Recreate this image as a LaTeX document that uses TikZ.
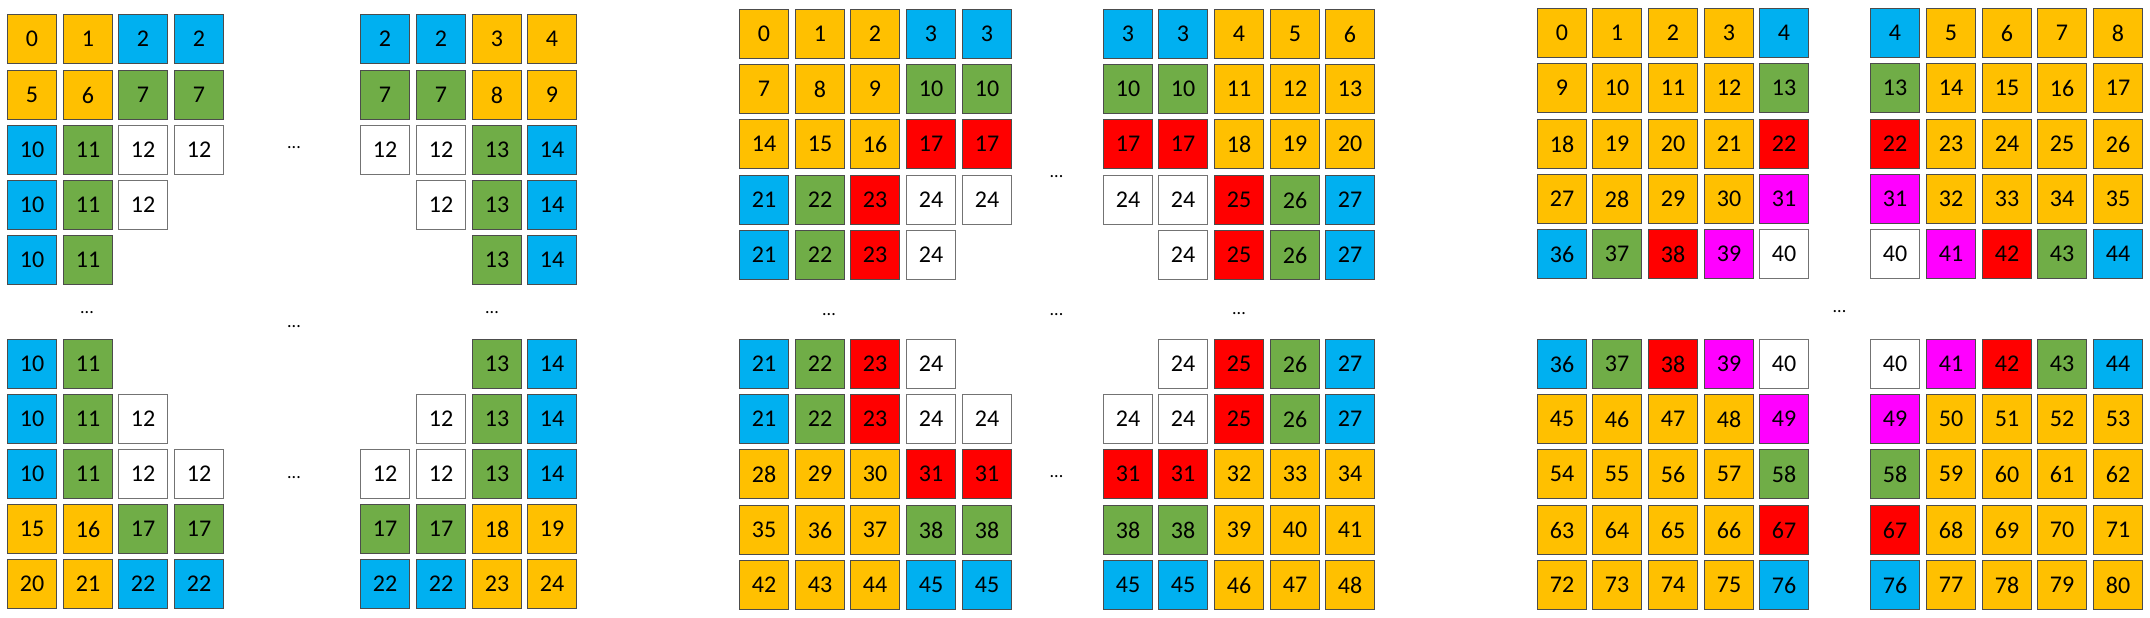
\documentclass[tikz,border=0pt]{standalone}
\usepackage{fontspec}
\setmainfont{Carlito}
\definecolor{cyel}{HTML}{FFC000}
\definecolor{cblu}{HTML}{00B0F0}
\definecolor{cgrn}{HTML}{70AD47}
\definecolor{cred}{HTML}{FF0000}
\definecolor{cmag}{HTML}{FF00FF}

\begin{document}
\begin{tikzpicture}[x=1pt,y=-1pt,
  sq/.style={draw=black!70,line width=1.1pt,minimum size=49pt,inner sep=0pt,font=\fontsize{24}{28}\selectfont},
  ycell/.style={sq,fill=cyel}, bcell/.style={sq,fill=cblu}, gcell/.style={sq,fill=cgrn},
  rcell/.style={sq,fill=cred}, mcell/.style={sq,fill=cmag}, wcell/.style={sq,draw=black!55,fill=white},
  dots/.style={inner sep=0pt,font=\fontsize{18}{20}\selectfont}]
\useasboundingbox (0,0) rectangle (2150,618);

% first example, 4x4 blocks
\node[ycell] (a11) at (32,39) {0}; \node[ycell] (a12) at (88,39) {1}; \node[bcell] (a13) at (143,39) {2}; \node[bcell] (a14) at (199,39) {2};
\node[ycell] (a21) at (32,95) {5}; \node[ycell] (a22) at (88,95) {6}; \node[gcell] (a23) at (143,95) {7}; \node[gcell] (a24) at (199,95) {7};
\node[bcell] (a31) at (32,150) {10}; \node[gcell] (a32) at (88,150) {11}; \node[wcell] (a33) at (143,150) {12}; \node[wcell] (a34) at (199,150) {12};
\node[bcell] (a41) at (32,205) {10}; \node[gcell] (a42) at (88,205) {11}; \node[wcell] (a43) at (143,205) {12};
\node[bcell] (a51) at (32,260) {10}; \node[gcell] (a52) at (88,260) {11};

\node[bcell] (b11) at (385,39) {2}; \node[bcell] (b12) at (441,39) {2}; \node[ycell] (b13) at (497,39) {3}; \node[ycell] (b14) at (552,39) {4};
\node[gcell] (b21) at (385,95) {7}; \node[gcell] (b22) at (441,95) {7}; \node[ycell] (b23) at (497,95) {8}; \node[ycell] (b24) at (552,95) {9};
\node[wcell] (b31) at (385,150) {12}; \node[wcell] (b32) at (441,150) {12}; \node[gcell] (b33) at (497,150) {13}; \node[bcell] (b34) at (552,150) {14};
\node[wcell] (b42) at (441,205) {12}; \node[gcell] (b43) at (497,205) {13}; \node[bcell] (b44) at (552,205) {14};
\node[gcell] (b53) at (497,260) {13}; \node[bcell] (b54) at (552,260) {14};

\node[bcell] (c11) at (32,364) {10}; \node[gcell] (c12) at (88,364) {11};
\node[bcell] (c21) at (32,419) {10}; \node[gcell] (c22) at (88,419) {11}; \node[wcell] (c23) at (143,419) {12};
\node[bcell] (c31) at (32,474) {10}; \node[gcell] (c32) at (88,474) {11}; \node[wcell] (c33) at (143,474) {12}; \node[wcell] (c34) at (199,474) {12};
\node[ycell] (c41) at (32,529) {15}; \node[ycell] (c42) at (88,529) {16}; \node[gcell] (c43) at (143,529) {17}; \node[gcell] (c44) at (199,529) {17};
\node[ycell] (c51) at (32,584) {20}; \node[ycell] (c52) at (88,584) {21}; \node[bcell] (c53) at (143,584) {22}; \node[bcell] (c54) at (199,584) {22};

\node[gcell] (d13) at (497,364) {13}; \node[bcell] (d14) at (552,364) {14};
\node[wcell] (d22) at (441,419) {12}; \node[gcell] (d23) at (497,419) {13}; \node[bcell] (d24) at (552,419) {14};
\node[wcell] (d31) at (385,474) {12}; \node[wcell] (d32) at (441,474) {12}; \node[gcell] (d33) at (497,474) {13}; \node[bcell] (d34) at (552,474) {14};
\node[gcell] (d41) at (385,529) {17}; \node[gcell] (d42) at (441,529) {17}; \node[ycell] (d43) at (497,529) {18}; \node[ycell] (d44) at (552,529) {19};
\node[bcell] (d51) at (385,584) {22}; \node[bcell] (d52) at (441,584) {22}; \node[ycell] (d53) at (497,584) {23}; \node[ycell] (d54) at (552,584) {24};

\node[dots] (da) at (294,148) {...}; \node[dots] (db) at (87,313) {...}; \node[dots] (dc) at (492,313) {...};
\node[dots] (dd) at (294,327) {...}; \node[dots] (de) at (294,478) {...};

% second example, 5x5 blocks
\node[ycell] (e11) at (764,34) {0}; \node[ycell] (e12) at (820,34) {1}; \node[ycell] (e13) at (875,34) {2}; \node[bcell] (e14) at (931,34) {3}; \node[bcell] (e15) at (987,34) {3};
\node[ycell] (e21) at (764,89) {7}; \node[ycell] (e22) at (820,89) {8}; \node[ycell] (e23) at (875,89) {9}; \node[gcell] (e24) at (931,89) {10}; \node[gcell] (e25) at (987,89) {10};
\node[ycell] (e31) at (764,144) {14}; \node[ycell] (e32) at (820,144) {15}; \node[ycell] (e33) at (875,144) {16}; \node[rcell] (e34) at (931,144) {17}; \node[rcell] (e35) at (987,144) {17};
\node[bcell] (e41) at (764,200) {21}; \node[gcell] (e42) at (820,200) {22}; \node[rcell] (e43) at (875,200) {23}; \node[wcell] (e44) at (931,200) {24}; \node[wcell] (e45) at (987,200) {24};
\node[bcell] (e51) at (764,255) {21}; \node[gcell] (e52) at (820,255) {22}; \node[rcell] (e53) at (875,255) {23}; \node[wcell] (e54) at (931,255) {24};

\node[bcell] (f11) at (1128,34) {3}; \node[bcell] (f12) at (1183,34) {3}; \node[ycell] (f13) at (1239,34) {4}; \node[ycell] (f14) at (1295,34) {5}; \node[ycell] (f15) at (1350,34) {6};
\node[gcell] (f21) at (1128,89) {10}; \node[gcell] (f22) at (1183,89) {10}; \node[ycell] (f23) at (1239,89) {11}; \node[ycell] (f24) at (1295,89) {12}; \node[ycell] (f25) at (1350,89) {13};
\node[rcell] (f31) at (1128,144) {17}; \node[rcell] (f32) at (1183,144) {17}; \node[ycell] (f33) at (1239,144) {18}; \node[ycell] (f34) at (1295,144) {19}; \node[ycell] (f35) at (1350,144) {20};
\node[wcell] (f41) at (1128,200) {24}; \node[wcell] (f42) at (1183,200) {24}; \node[rcell] (f43) at (1239,200) {25}; \node[gcell] (f44) at (1295,200) {26}; \node[bcell] (f45) at (1350,200) {27};
\node[wcell] (f52) at (1183,255) {24}; \node[rcell] (f53) at (1239,255) {25}; \node[gcell] (f54) at (1295,255) {26}; \node[bcell] (f55) at (1350,255) {27};

\node[bcell] (g11) at (764,364) {21}; \node[gcell] (g12) at (820,364) {22}; \node[rcell] (g13) at (875,364) {23}; \node[wcell] (g14) at (931,364) {24};
\node[bcell] (g21) at (764,419) {21}; \node[gcell] (g22) at (820,419) {22}; \node[rcell] (g23) at (875,419) {23}; \node[wcell] (g24) at (931,419) {24}; \node[wcell] (g25) at (987,419) {24};
\node[ycell] (g31) at (764,474) {28}; \node[ycell] (g32) at (820,474) {29}; \node[ycell] (g33) at (875,474) {30}; \node[rcell] (g34) at (931,474) {31}; \node[rcell] (g35) at (987,474) {31};
\node[ycell] (g41) at (764,530) {35}; \node[ycell] (g42) at (820,530) {36}; \node[ycell] (g43) at (875,530) {37}; \node[gcell] (g44) at (931,530) {38}; \node[gcell] (g45) at (987,530) {38};
\node[ycell] (g51) at (764,585) {42}; \node[ycell] (g52) at (820,585) {43}; \node[ycell] (g53) at (875,585) {44}; \node[bcell] (g54) at (931,585) {45}; \node[bcell] (g55) at (987,585) {45};

\node[wcell] (h12) at (1183,364) {24}; \node[rcell] (h13) at (1239,364) {25}; \node[gcell] (h14) at (1295,364) {26}; \node[bcell] (h15) at (1350,364) {27};
\node[wcell] (h21) at (1128,419) {24}; \node[wcell] (h22) at (1183,419) {24}; \node[rcell] (h23) at (1239,419) {25}; \node[gcell] (h24) at (1295,419) {26}; \node[bcell] (h25) at (1350,419) {27};
\node[rcell] (h31) at (1128,474) {31}; \node[rcell] (h32) at (1183,474) {31}; \node[ycell] (h33) at (1239,474) {32}; \node[ycell] (h34) at (1295,474) {33}; \node[ycell] (h35) at (1350,474) {34};
\node[gcell] (h41) at (1128,530) {38}; \node[gcell] (h42) at (1183,530) {38}; \node[ycell] (h43) at (1239,530) {39}; \node[ycell] (h44) at (1295,530) {40}; \node[ycell] (h45) at (1350,530) {41};
\node[bcell] (h51) at (1128,585) {45}; \node[bcell] (h52) at (1183,585) {45}; \node[ycell] (h53) at (1239,585) {46}; \node[ycell] (h54) at (1295,585) {47}; \node[ycell] (h55) at (1350,585) {48};

\node[dots] (df) at (1056.5,176.5) {...}; \node[dots] (dg) at (829,315) {...}; \node[dots] (dh) at (1056.5,315) {...};
\node[dots] (di) at (1239,314) {...}; \node[dots] (dj) at (1056.5,477) {...};

% third example, 5x5 blocks
\node[ycell] (i11) at (1562,33) {0}; \node[ycell] (i12) at (1617,33) {1}; \node[ycell] (i13) at (1673,33) {2}; \node[ycell] (i14) at (1729,33) {3}; \node[bcell] (i15) at (1784,33) {4};
\node[ycell] (i21) at (1562,88) {9}; \node[ycell] (i22) at (1617,88) {10}; \node[ycell] (i23) at (1673,88) {11}; \node[ycell] (i24) at (1729,88) {12}; \node[gcell] (i25) at (1784,88) {13};
\node[ycell] (i31) at (1562,144) {18}; \node[ycell] (i32) at (1617,144) {19}; \node[ycell] (i33) at (1673,144) {20}; \node[ycell] (i34) at (1729,144) {21}; \node[rcell] (i35) at (1784,144) {22};
\node[ycell] (i41) at (1562,199) {27}; \node[ycell] (i42) at (1617,199) {28}; \node[ycell] (i43) at (1673,199) {29}; \node[ycell] (i44) at (1729,199) {30}; \node[mcell] (i45) at (1784,199) {31};
\node[bcell] (i51) at (1562,254) {36}; \node[gcell] (i52) at (1617,254) {37}; \node[rcell] (i53) at (1673,254) {38}; \node[mcell] (i54) at (1729,254) {39}; \node[wcell] (i55) at (1784,254) {40};

\node[bcell] (j11) at (1895,33) {4}; \node[ycell] (j12) at (1951,33) {5}; \node[ycell] (j13) at (2007,33) {6}; \node[ycell] (j14) at (2062,33) {7}; \node[ycell] (j15) at (2118,33) {8};
\node[gcell] (j21) at (1895,88) {13}; \node[ycell] (j22) at (1951,88) {14}; \node[ycell] (j23) at (2007,88) {15}; \node[ycell] (j24) at (2062,88) {16}; \node[ycell] (j25) at (2118,88) {17};
\node[rcell] (j31) at (1895,144) {22}; \node[ycell] (j32) at (1951,144) {23}; \node[ycell] (j33) at (2007,144) {24}; \node[ycell] (j34) at (2062,144) {25}; \node[ycell] (j35) at (2118,144) {26};
\node[mcell] (j41) at (1895,199) {31}; \node[ycell] (j42) at (1951,199) {32}; \node[ycell] (j43) at (2007,199) {33}; \node[ycell] (j44) at (2062,199) {34}; \node[ycell] (j45) at (2118,199) {35};
\node[wcell] (j51) at (1895,254) {40}; \node[mcell] (j52) at (1951,254) {41}; \node[rcell] (j53) at (2007,254) {42}; \node[gcell] (j54) at (2062,254) {43}; \node[bcell] (j55) at (2118,254) {44};

\node[bcell] (k11) at (1562,364) {36}; \node[gcell] (k12) at (1617,364) {37}; \node[rcell] (k13) at (1673,364) {38}; \node[mcell] (k14) at (1729,364) {39}; \node[wcell] (k15) at (1784,364) {40};
\node[ycell] (k21) at (1562,419) {45}; \node[ycell] (k22) at (1617,419) {46}; \node[ycell] (k23) at (1673,419) {47}; \node[ycell] (k24) at (1729,419) {48}; \node[mcell] (k25) at (1784,419) {49};
\node[ycell] (k31) at (1562,474) {54}; \node[ycell] (k32) at (1617,474) {55}; \node[ycell] (k33) at (1673,474) {56}; \node[ycell] (k34) at (1729,474) {57}; \node[gcell] (k35) at (1784,474) {58};
\node[ycell] (k41) at (1562,530) {63}; \node[ycell] (k42) at (1617,530) {64}; \node[ycell] (k43) at (1673,530) {65}; \node[ycell] (k44) at (1729,530) {66}; \node[rcell] (k45) at (1784,530) {67};
\node[ycell] (k51) at (1562,585) {72}; \node[ycell] (k52) at (1617,585) {73}; \node[ycell] (k53) at (1673,585) {74}; \node[ycell] (k54) at (1729,585) {75}; \node[bcell] (k55) at (1784,585) {76};

\node[wcell] (l11) at (1895,364) {40}; \node[mcell] (l12) at (1951,364) {41}; \node[rcell] (l13) at (2007,364) {42}; \node[gcell] (l14) at (2062,364) {43}; \node[bcell] (l15) at (2118,364) {44};
\node[mcell] (l21) at (1895,419) {49}; \node[ycell] (l22) at (1951,419) {50}; \node[ycell] (l23) at (2007,419) {51}; \node[ycell] (l24) at (2062,419) {52}; \node[ycell] (l25) at (2118,419) {53};
\node[gcell] (l31) at (1895,474) {58}; \node[ycell] (l32) at (1951,474) {59}; \node[ycell] (l33) at (2007,474) {60}; \node[ycell] (l34) at (2062,474) {61}; \node[ycell] (l35) at (2118,474) {62};
\node[rcell] (l41) at (1895,530) {67}; \node[ycell] (l42) at (1951,530) {68}; \node[ycell] (l43) at (2007,530) {69}; \node[ycell] (l44) at (2062,530) {70}; \node[ycell] (l45) at (2118,530) {71};
\node[bcell] (l51) at (1895,585) {76}; \node[ycell] (l52) at (1951,585) {77}; \node[ycell] (l53) at (2007,585) {78}; \node[ycell] (l54) at (2062,585) {79}; \node[ycell] (l55) at (2118,585) {80};

\node[dots] (dk) at (1839.5,311.5) {...};
\end{tikzpicture}
\end{document}
